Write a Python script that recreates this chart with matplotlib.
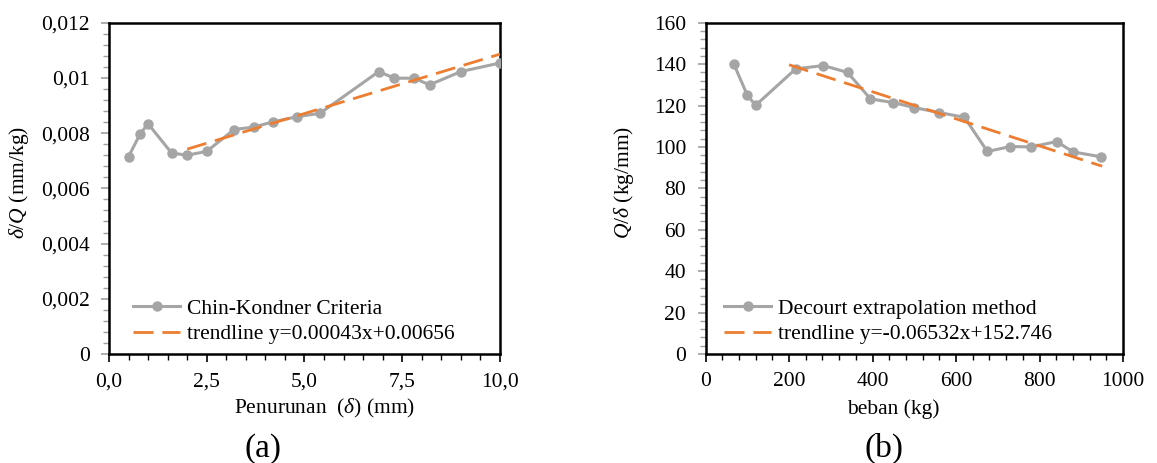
import numpy as np
import matplotlib
matplotlib.use("Agg")
import matplotlib.pyplot as plt
from matplotlib.ticker import MultipleLocator, FuncFormatter

plt.rcParams['font.family'] = ['Liberation Serif', 'DejaVu Serif']
plt.rcParams['mathtext.fontset'] = 'custom'
plt.rcParams['mathtext.rm'] = 'Liberation Serif'
plt.rcParams['mathtext.it'] = 'Liberation Serif:italic'

# (a) Chin-Kondner: settlement vs delta/Q
settle_a = [0.5, 0.8, 1.0, 1.6, 2.0, 2.5, 3.2, 3.7, 4.2, 4.8, 5.4, 6.9, 7.3, 7.8, 8.2, 9.0, 10.0]
ratio_a = [0.00715, 0.00798, 0.00834, 0.00728, 0.00720, 0.00734, 0.00813, 0.00822, 0.00841,
           0.00859, 0.00872, 0.01023, 0.00999, 0.00999, 0.00975, 0.01023, 0.01054]
trend_a_x = [2.0, 10.0]
trend_a_coef = (0.00043, 0.00656)

# (b) Decourt: load vs Q/delta
load_b = [68, 100, 120, 216, 282, 340, 395, 450, 500, 560, 620, 675, 730, 780, 841, 880, 948]
ratio_b = [139.9, 125.0, 120.1, 137.7, 139.3, 136.0, 123.2, 121.4, 119.0, 116.6, 114.3,
           97.8, 100.2, 100.0, 102.6, 97.6, 95.2]
trend_b_x = [200, 950]
trend_b_coef = (-0.06532, 152.746)

GREY = '#A5A5A5'
ORANGE = '#ED7D31'
FS = 15.5

fig = plt.figure(figsize=(11.57, 4.63), dpi=100)
ax1 = fig.add_axes([0.0942, 0.2354, 0.3379, 0.7156])
ax2 = fig.add_axes([0.6098, 0.2354, 0.3609, 0.7156])


def comma(fmt):
    return FuncFormatter(lambda v, p: fmt(v).replace('.', ','))


def style(ax):
    for s in ax.spines.values():
        s.set_linewidth(1.8)
        s.set_color('black')
    ax.tick_params(axis='both', which='both', direction='out', labelsize=FS)
    ax.tick_params(axis='x', which='major', length=6, width=1.2, color='black', pad=7)
    ax.tick_params(axis='x', which='minor', length=4, width=1.0, color='black')
    ax.tick_params(axis='y', which='major', length=6, width=1.2, color='#A0A0A0', pad=8)
    ax.tick_params(axis='y', which='minor', length=4, width=1.0, color='#A0A0A0')


def draw(ax, x, y, tx, coef, label, tlabel, lx):
    ax.plot(x, y, color=GREY, lw=2.2, marker='o', ms=6.5, label=label, zorder=3)
    tx = np.array(tx)
    ax.plot(tx, coef[0] * tx + coef[1], color=ORANGE, lw=2.0, dashes=(7.2, 3.2),
            label=tlabel, zorder=4)
    ax.legend(loc='lower left', bbox_to_anchor=(lx, 0.03), frameon=False, fontsize=FS,
              borderpad=0, borderaxespad=0, handlelength=2.2, handletextpad=0.3,
              labelspacing=0.25)


draw(ax1, settle_a, ratio_a, trend_a_x, trend_a_coef,
     'Chin-Kondner Criteria', 'trendline y=0.00043x+0.00656', 0.061)
ax1.set_xlim(0, 10)
ax1.set_ylim(0, 0.012)
ax1.xaxis.set_major_locator(MultipleLocator(2.5))
ax1.xaxis.set_minor_locator(MultipleLocator(0.5))
ax1.yaxis.set_major_locator(MultipleLocator(0.002))
ax1.yaxis.set_minor_locator(MultipleLocator(0.0004))
ax1.xaxis.set_major_formatter(comma(lambda v: f'{v:.1f}'))
ax1.yaxis.set_major_formatter(comma(lambda v: '0' if abs(v) < 1e-9 else f'{v:.3f}'.rstrip('0')))
style(ax1)
ax1.text(0.552, -0.165, r'Penurunan  ($\delta$) (mm)', transform=ax1.transAxes,
         ha='center', va='center', fontsize=FS)
ax1.text(-0.229, 0.517, r'$\delta/Q$ (mm/kg)', transform=ax1.transAxes,
         ha='center', va='center', rotation=90, fontsize=FS)
fig.text(263.5 / 1157, 0.032, '(a)', ha='center', va='center', fontsize=24)

draw(ax2, load_b, ratio_b, trend_b_x, trend_b_coef,
     'Decourt extrapolation method', 'trendline y=-0.06532x+152.746', 0.044)
ax2.set_xlim(0, 1000)
ax2.set_ylim(0, 160)
ax2.xaxis.set_major_locator(MultipleLocator(200))
ax2.xaxis.set_minor_locator(MultipleLocator(40))
ax2.yaxis.set_major_locator(MultipleLocator(20))
ax2.yaxis.set_minor_locator(MultipleLocator(4))
style(ax2)
ax2.text(0.449, -0.166, 'beban (kg)', transform=ax2.transAxes,
         ha='center', va='center', fontsize=FS)
ax2.text(-0.195, 0.517, r'$Q/\delta$ (kg/mm)', transform=ax2.transAxes,
         ha='center', va='center', rotation=90, fontsize=FS)
fig.text(884 / 1157, 0.032, '(b)', ha='center', va='center', fontsize=24)

fig.savefig('out.png', dpi=100)
